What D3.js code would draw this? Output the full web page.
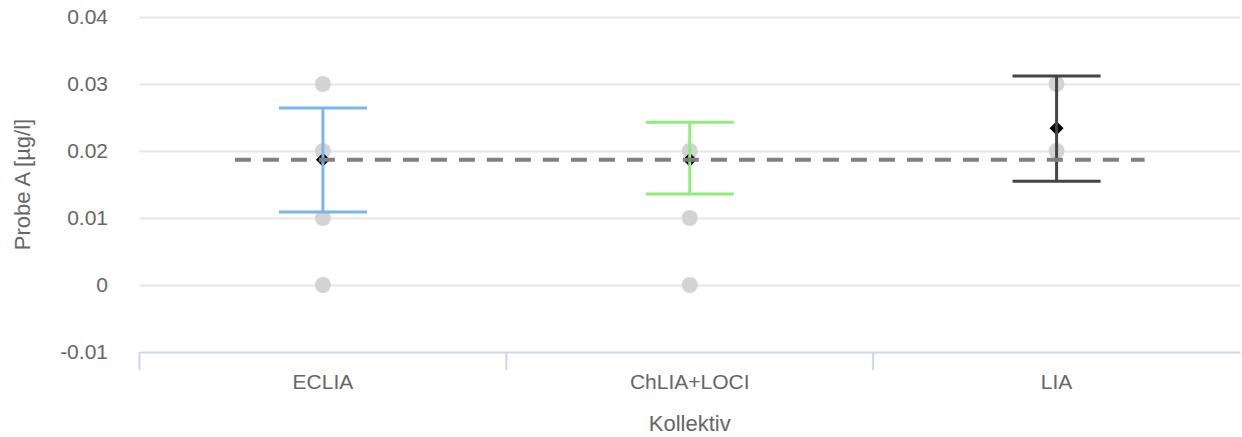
<!DOCTYPE html>
<html>
<head>
<meta charset="utf-8">
<script src="https://cdn.jsdelivr.net/npm/d3@7"></script>
<style>
  body { margin: 0; background: #fff; }
  text { font-family: "Liberation Sans", Arial, Helvetica, sans-serif; fill: #666; }
</style>
</head>
<body>
<div id="container"></div>
<script>
// data
var categories = ["ECLIA", "ChLIA+LOCI", "LIA"];
var errLow = [0.0109, 0.0136, 0.0155];
var errHigh = [0.0264, 0.0243, 0.0312];
var means = [0.0187, 0.0187, 0.0234];
var errColors = ["#7cb5ec", "#90ed7d", "#434348"];
var pointsECLIA = [0.03, 0.02, 0.01, 0];
var pointsChLIA = [0.02, 0.01, 0];
var pointsLIA = [0.03, 0.02];
var refValue = 0.0187;
var yTicks = [-0.01, 0, 0.01, 0.02, 0.03, 0.04];
var yTickLabels = ["-0.01", "0", "0.01", "0.02", "0.03", "0.04"];

var width = 1242, height = 437,
    margin = {top: 17, bottom: 85, left: 139.5, right: 2};

var svg = d3.select("div#container").append("svg").attr("width", width).attr("height", height);

var xScale = d3.scaleBand()
               .domain(categories)
               .range([margin.left, width - margin.right])
               .padding(0);

var yScale = d3.scaleLinear()
               .domain([-0.01, 0.04])
               .range([height - margin.bottom, margin.top]);

var bw = xScale.bandwidth();
function cx(i) { return xScale(categories[i]) + bw / 2; }

// gridlines
svg.append("g").selectAll("line")
   .data(yTicks.filter(function(d) { return d > -0.01; }))
   .enter().append("line")
   .attr("x1", margin.left).attr("x2", width - margin.right)
   .attr("y1", function(d) { return Math.round(yScale(d)) + 0.5; })
   .attr("y2", function(d) { return Math.round(yScale(d)) + 0.5; })
   .attr("stroke", "#e6e6e6").attr("stroke-width", 2);

// y labels
svg.append("g").selectAll("text")
   .data(yTicks).enter().append("text")
   .attr("x", 108)
   .attr("y", function(d) { return yScale(d); })
   .attr("dy", "0.35em")
   .attr("text-anchor", "end")
   .style("font-size", "21px")
   .text(function(d, i) { return yTickLabels[i]; });

// x axis
var xAxis = d3.axisBottom(xScale).tickSize(0).tickPadding(0);
var gx = svg.append("g")
   .attr("transform", "translate(0," + (height - margin.bottom) + ")")
   .call(xAxis);
gx.select(".domain").attr("stroke", "#ccd6eb").attr("stroke-width", 2);
gx.selectAll("text").attr("fill", "#666").attr("y", 30).attr("dy", "0.35em")
  .style("font-size", "21px")
  .style("font-family", "'Liberation Sans', Arial, sans-serif");

var boundaries = categories.map(function(c) { return xScale(c); });
svg.append("g").selectAll("line")
   .data(boundaries).enter().append("line")
   .attr("x1", function(d) { return d; }).attr("x2", function(d) { return d; })
   .attr("y1", height - margin.bottom).attr("y2", height - margin.bottom + 18)
   .attr("stroke", "#ccd6eb").attr("stroke-width", 2);

// axis titles
svg.append("text")
   .attr("transform", "translate(30," + ((margin.top + height - margin.bottom) / 2) + ") rotate(-90)")
   .attr("text-anchor", "middle")
   .style("font-size", "22px")
   .text("Probe A [µg/l]");

svg.append("text")
   .attr("x", (margin.left + width - margin.right) / 2)
   .attr("y", 423).attr("dy", "0.35em")
   .attr("text-anchor", "middle")
   .style("font-size", "22px")
   .text("Kollektiv");

// scatter points
var pts = [];
[pointsECLIA, pointsChLIA, pointsLIA].forEach(function(arr, i) {
  arr.forEach(function(v) { pts.push({i: i, v: v}); });
});
svg.append("g").selectAll("circle")
   .data(pts).enter().append("circle")
   .attr("cx", function(d) { return cx(d.i); })
   .attr("cy", function(d) { return yScale(d.v); })
   .attr("r", 8)
   .attr("fill", "#d3d3d3");

// mean diamonds
svg.append("g").selectAll("path")
   .data(means).enter().append("path")
   .attr("d", function(d, i) {
     var x = cx(i), y = yScale(d), r = 7;
     return "M" + x + "," + (y - r) + "L" + (x + r) + "," + y + "L" + x + "," + (y + r) + "L" + (x - r) + "," + y + "Z";
   })
   .attr("fill", "#000");

// error bars
var eg = svg.append("g").selectAll("g")
   .data(categories).enter().append("g")
   .attr("stroke", function(d, i) { return errColors[i]; })
   .attr("stroke-width", 3);
var capW = bw * 0.12;
eg.append("line")
  .attr("x1", function(d, i) { return cx(i); }).attr("x2", function(d, i) { return cx(i); })
  .attr("y1", function(d, i) { return yScale(errHigh[i]); })
  .attr("y2", function(d, i) { return yScale(errLow[i]); });
eg.append("line")
  .attr("x1", function(d, i) { return cx(i) - capW; }).attr("x2", function(d, i) { return cx(i) + capW; })
  .attr("y1", function(d, i) { return yScale(errHigh[i]); })
  .attr("y2", function(d, i) { return yScale(errHigh[i]); });
eg.append("line")
  .attr("x1", function(d, i) { return cx(i) - capW; }).attr("x2", function(d, i) { return cx(i) + capW; })
  .attr("y1", function(d, i) { return yScale(errLow[i]); })
  .attr("y2", function(d, i) { return yScale(errLow[i]); });

// reference dashed line
svg.append("line")
   .attr("x1", cx(0) - bw * 0.24).attr("x2", cx(2) + bw * 0.24)
   .attr("y1", yScale(refValue)).attr("y2", yScale(refValue))
   .attr("stroke", "#808080")
   .attr("stroke-width", 4)
   .attr("stroke-dasharray", "16,12");
</script>
</body>
</html>
